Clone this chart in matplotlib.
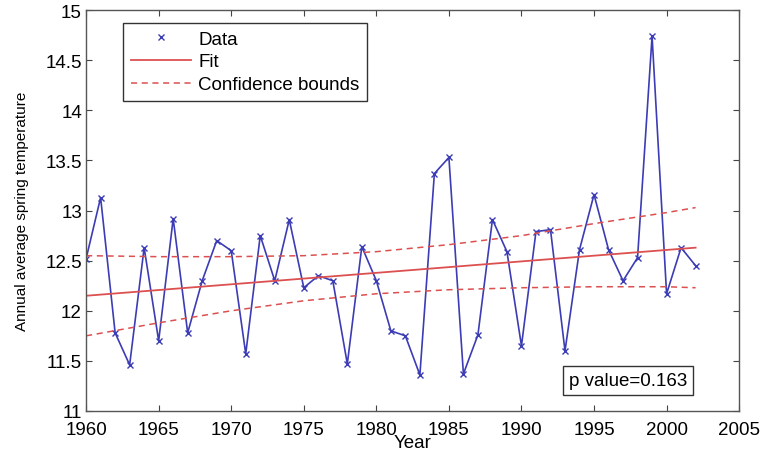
import numpy as np
import matplotlib
matplotlib.use('Agg')
import matplotlib.pyplot as plt

plt.rcParams['font.family'] = ['Liberation Sans', 'DejaVu Sans']

# values
years = list(range(1960, 2003))
temps = [12.52, 13.13, 11.78, 11.46, 12.63, 11.70, 12.92, 11.78, 12.30, 12.70,
         12.60, 11.57, 12.75, 12.30, 12.91, 12.23, 12.35, 12.30, 11.47, 12.64,
         12.30, 11.80, 11.75, 11.36, 13.37, 13.53, 11.37, 11.76, 12.91, 12.59,
         11.65, 12.79, 12.81, 11.60, 12.61, 13.16, 12.61, 12.30, 12.53, 14.74,
         12.17, 12.63, 12.45]

fit_years = [1960, 2002]
fit_vals = [12.15, 12.63]

bound_years = [1960, 1965, 1970, 1975, 1980, 1985, 1990, 1995, 2000, 2002]
upper_vals = [12.55, 12.54, 12.54, 12.55, 12.59, 12.66, 12.75, 12.87, 12.98, 13.03]
lower_vals = [11.75, 11.88, 12.00, 12.10, 12.17, 12.21, 12.23, 12.24, 12.24, 12.23]

p_value = 0.163

blue = '#3c3cb4'
red = '#dc5050'
fs = 13.5

fig = plt.figure(figsize=(7.62, 4.56), dpi=100)
ax = fig.add_axes([0.113, 0.0965, 0.857, 0.879])

ax.plot(years, temps, color=blue, linewidth=1.2)
ax.plot(years, temps, linestyle='none', marker='x', color=blue,
        markersize=5, markeredgewidth=1.0, label='Data')
ax.plot(fit_years, fit_vals, color=red, linewidth=1.3, label='Fit')
ax.plot(bound_years, upper_vals, color=red, linestyle='--', linewidth=1.1,
        dashes=(4, 3), label='Confidence bounds')
ax.plot(bound_years, lower_vals, color=red, linestyle='--', linewidth=1.1,
        dashes=(4, 3))

ax.set_xlim(1960, 2005)
ax.set_ylim(11, 15)
ax.set_xticks(np.arange(1960, 2006, 5))
ax.set_yticks(np.arange(11, 15.01, 0.5))
ax.set_yticklabels(['11', '11.5', '12', '12.5', '13', '13.5', '14', '14.5', '15'])
ax.tick_params(direction='in', top=True, right=True, labelsize=fs,
               length=4, color='#444444', pad=3)
ax.tick_params(axis='x', pad=7)
for s in ax.spines.values():
    s.set_color('#555555')
    s.set_linewidth(1.0)

ax.set_xlabel('Year', fontsize=fs, labelpad=-3)
ax.set_ylabel('Annual average spring temperature', fontsize=11, labelpad=12)

leg = ax.legend(loc='upper left', bbox_to_anchor=(0.0567, 0.968),
                borderaxespad=0, fancybox=False, edgecolor='#333333',
                fontsize=fs, handlelength=3.2, handletextpad=0.4,
                labelspacing=0.3, borderpad=0.4, framealpha=1)
leg.get_frame().set_linewidth(1.0)

ax.text(0.830, 0.076, 'p value=%.3f' % p_value, transform=ax.transAxes,
        ha='center', va='center', fontsize=fs,
        bbox=dict(boxstyle='square,pad=0.3', facecolor='white',
                  edgecolor='#333333', linewidth=1.0))

fig.savefig('out.png', dpi=100)
